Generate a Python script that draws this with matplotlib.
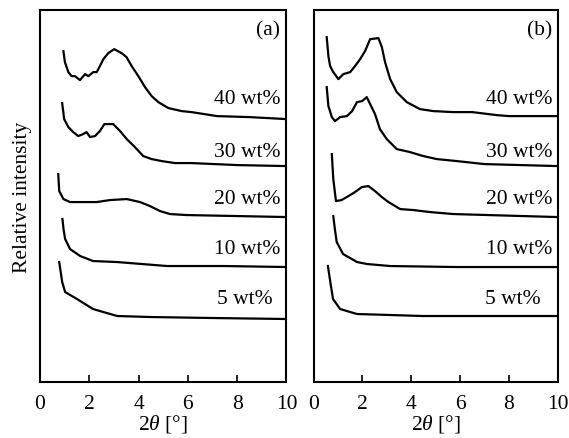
import matplotlib
matplotlib.use("Agg")
import matplotlib.pyplot as plt

plt.rcParams['font.family'] = ['Liberation Serif', 'DejaVu Serif']
plt.rcParams['mathtext.fontset'] = 'custom'
plt.rcParams['mathtext.it'] = 'Liberation Serif:italic'
plt.rcParams['mathtext.rm'] = 'Liberation Serif'

# panel (a)
a40_x = [0.95, 1.01, 1.15, 1.28, 1.42, 1.62, 1.83, 1.96, 2.16, 2.30, 2.43, 2.57, 2.77, 3.01, 3.31, 3.51,
         3.72, 3.99, 4.26, 4.53, 4.80, 5.21, 5.75, 6.15, 7.18, 8.5, 10.0]
a40_y = [331, 320, 310, 306, 306, 302, 308, 306, 310, 310, 316, 323, 329, 333, 329, 325,
         316, 306, 295, 286, 280, 274, 271, 270, 266, 265, 263]
a30_x = [0.90, 0.98, 1.15, 1.35, 1.55, 1.75, 1.89, 2.03, 2.23, 2.43, 2.61, 2.97, 3.25, 3.52, 3.85, 4.19,
         4.53, 4.94, 5.48, 6.15, 8.0, 10.0]
a30_y = [279, 263, 255, 250, 246, 248, 250, 245, 246, 251, 258, 258, 251, 243, 235, 226,
         223, 221, 219, 219, 217, 216]
a20_x = [0.74, 0.78, 0.95, 1.22, 1.76, 2.30, 2.84, 3.52, 4.06, 4.46, 4.87, 5.27, 5.95, 8.0, 10.0]
a20_y = [208, 191, 183, 180, 180, 180, 182, 183, 180, 176, 171, 168, 167, 166, 165]
a10_x = [0.91, 0.96, 1.02, 1.22, 1.63, 2.15, 3.13, 5.16, 7.5, 10.0]
a10_y = [163, 152, 143, 133, 126, 121, 120, 116, 116, 115]
a5_x = [0.78, 0.90, 1.02, 1.50, 2.15, 3.13, 4.47, 7.0, 10.0]
a5_y = [120, 100, 90, 83, 73, 66, 65, 64, 63]

# panel (b)
b40_x = [0.54, 0.61, 0.68, 0.81, 1.02, 1.22, 1.50, 1.70, 1.91, 2.11, 2.32, 2.66, 2.80, 2.93, 3.14, 3.41,
         3.82, 4.36, 4.91, 5.73, 6.5, 7.5, 8.0, 10.0]
b40_y = [345, 326, 316, 310, 303, 308, 310, 316, 323, 331, 343, 344, 335, 320, 303, 290,
         280, 273, 271, 270, 270, 267, 266, 266]
b30_x = [0.54, 0.61, 0.75, 0.88, 1.09, 1.37, 1.58, 1.78, 1.99, 2.18, 2.32, 2.52, 2.72, 3.00, 3.41, 3.95,
         4.50, 5.05, 5.87, 7.0, 10.0]
b30_y = [295, 276, 265, 261, 265, 266, 271, 280, 281, 285, 278, 268, 253, 243, 233, 230,
         226, 223, 221, 218, 216]
b20_x = [0.75, 0.81, 0.92, 1.15, 1.43, 1.70, 1.98, 2.25, 2.52, 2.80, 3.07, 3.55, 4.09, 4.77, 5.73, 10.0]
b20_y = [228, 203, 181, 182, 186, 190, 195, 196, 191, 185, 180, 173, 172, 170, 168, 165]
b10_x = [0.81, 0.88, 0.95, 1.21, 1.50, 1.78, 2.2, 3.14, 5.88, 10.0]
b10_y = [166, 152, 140, 128, 124, 120, 118, 116, 115, 115]
b5_x = [0.59, 0.70, 0.80, 1.09, 1.78, 4.49, 10.0]
b5_y = [116, 98, 83, 73, 68, 66, 66]

labels = ['40 wt%', '30 wt%', '20 wt%', '10 wt%', '5 wt%']
label_y = [284, 231, 184, 134, 84]

fig = plt.figure(figsize=(5.69, 4.39), dpi=100)
ax_a = fig.add_axes([0.0703, 0.1276, 0.4332, 0.847])
ax_b = fig.add_axes([0.551, 0.1276, 0.429, 0.847])

panels = [
    (ax_a, '(a)', [(a40_x, a40_y), (a30_x, a30_y), (a20_x, a20_y), (a10_x, a10_y), (a5_x, a5_y)], 9.75, 9.45),
    (ax_b, '(b)', [(b40_x, b40_y), (b30_x, b30_y), (b20_x, b20_y), (b10_x, b10_y), (b5_x, b5_y)], 9.8, 9.3),
]

for ax, tag, curves, lx, lx5 in panels:
    for (x, y) in curves:
        ax.plot(x, y, color='black', lw=1.6)
    for i, (lab, ly) in enumerate(zip(labels, label_y)):
        ax.text(lx5 if i == 4 else lx, ly, lab, ha='right', va='center', fontsize=15.5)
    ax.text(lx, 352, tag, ha='right', va='center', fontsize=15.5)
    ax.set_xlim(0, 10)
    ax.set_ylim(0, 372)
    ax.set_xticks([0, 2, 4, 6, 8, 10])
    ax.set_yticks([])
    ax.tick_params(axis='x', direction='in', length=5, width=1.2, labelsize=15.5, pad=9)
    for s in ax.spines.values():
        s.set_linewidth(1.5)
    ax.set_xlabel(r'2$\mathit{\theta}$ [°]', fontsize=15.5, labelpad=-1)

ax_a.set_ylabel('Relative intensity', fontsize=15.5, labelpad=6)

fig.savefig('out.png', dpi=100)
